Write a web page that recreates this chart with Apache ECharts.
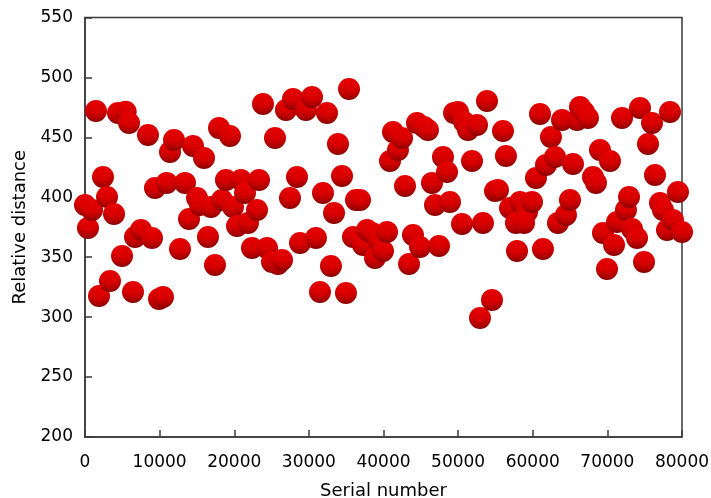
<!DOCTYPE html>
<html>
<head>
<meta charset="utf-8">
<script src="https://cdn.jsdelivr.net/npm/echarts@6/dist/echarts.min.js"></script>
<style>html,body{margin:0;padding:0;background:#fff}#c{width:711px;height:498px}</style>
</head>
<body>
<div id="c"></div>
<script>
var serial = [0,400,940,1470,1880,2410,2950,3350,3890,4420,4960,5450,5900,6430,6700,7500,8440,8980,9380,9920,
10450,10950,11390,11930,12730,13400,13940,14470,15010,15410,15950,16480,16880,17420,17960,18360,18890,19430,19830,20370,
20900,21440,21840,22380,23050,23320,23850,24390,25060,25460,25860,26400,26930,27470,27870,28410,28810,29610,30420,30950,
31490,31890,32430,32960,33370,33900,34440,34970,35380,35910,36310,36850,37250,37790,38460,38860,39400,39930,40470,40870,
41270,41940,42480,42880,43420,43950,44490,44890,45430,45960,46500,46900,47440,47970,48510,48910,49450,49980,50520,50790,
51320,51860,52530,52930,53330,53870,54540,54940,55340,56010,56410,56950,57750,57890,58290,59230,58830,59900,60430,60970,
61370,61770,62440,62980,63380,63920,64450,64990,65390,65930,66330,66870,67400,68070,68470,69010,69410,69950,70350,70890,
71290,71960,72490,72900,73300,73970,74370,74910,75440,75980,76380,77050,77450,77990,78390,78790,79460,80000];
var distance = [393.6,374.4,389.4,472,317.6,416.9,400.2,330.2,386,470.3,351,471.4,462,321,366.9,372.7,452,366,407.7,315.1,
316.8,412,437.8,447.8,356.8,412,381.9,442.8,399.4,393.6,432.8,366.9,391.9,343.5,457.8,397.7,414.4,451.1,391.9,376,
414.4,403.6,378.5,357.7,389.4,414.4,477.8,357.7,346,449.5,344.3,347.7,472.8,399.4,482,416.9,361.9,472.8,483.7,366,
321,403.6,470.3,342.7,386.9,444.5,417.8,320.1,490.3,366.9,397.7,397.7,360.2,372.7,370.2,349.3,363.5,355.2,371,430.3,
454.5,439.4,449.5,409.4,344.3,368.5,462,358.5,458.6,456.1,412,393.6,359.3,433.6,421.1,396,470.3,471.1,377.7,462.8,
456.1,430.3,460.3,299.3,378.5,480.3,314.3,405.2,406,455.3,434.4,391,378.5,355.2,396,387.7,378.5,396,416.1,469.5,
356.8,427,450.3,433.6,378.5,464.5,385.2,397.7,427.8,464.5,475.3,471.1,466.1,416.9,412,439.4,370.2,340.2,430.3,360.2,
379.4,466.1,389.4,400.2,373.5,366,474.5,346,444.5,462,418.6,395.2,389.4,372.7,471.1,381,404.4,371];
var xTicks = {min: 0, max: 80000, step: 10000};
var yTicks = {min: 200, max: 550, step: 50};
var xName = 'Serial number';
var yName = 'Relative distance';

var points = serial.map(function (s, i) { return [s, distance[i]]; });
var font = 'DejaVu Sans';
var chart = echarts.init(document.getElementById('c'), null, {renderer: 'canvas'});
chart.setOption({
  animation: false,
  backgroundColor: '#ffffff',
  grid: {left: 85, top: 17.5, right: 29, bottom: 61, show: true, borderColor: '#3a3a3a', borderWidth: 1.5,
    backgroundColor: 'transparent', containLabel: false, outerBoundsMode: 'none'},
  xAxis: {
    type: 'value', min: xTicks.min, max: xTicks.max, interval: xTicks.step,
    name: xName, nameLocation: 'middle', nameGap: 45,
    nameTextStyle: {fontFamily: font, fontSize: 18, color: '#000'},
    axisLine: {show: true, lineStyle: {color: '#3a3a3a', width: 1.5}},
    axisTick: {show: true, inside: true, length: 7, lineStyle: {color: '#3a3a3a', width: 1.5}},
    axisLabel: {fontFamily: font, fontSize: 17, color: '#000', margin: 17, showMinLabel: true, showMaxLabel: true,
      formatter: function (v) { return String(v); }},
    splitLine: {show: false}
  },
  yAxis: {
    type: 'value', min: yTicks.min, max: yTicks.max, interval: yTicks.step,
    name: yName, nameLocation: 'middle', nameGap: 55, nameRotate: 90,
    nameTextStyle: {fontFamily: font, fontSize: 18, color: '#000'},
    axisLine: {show: true, lineStyle: {color: '#3a3a3a', width: 1.5}},
    axisTick: {show: true, inside: true, length: 7, lineStyle: {color: '#3a3a3a', width: 1.5}},
    axisLabel: {fontFamily: font, fontSize: 17, color: '#000', margin: 12, showMinLabel: true, showMaxLabel: true,
      formatter: function (v) { return String(v); }},
    splitLine: {show: false}
  },
  series: [{
    type: 'scatter',
    data: points,
    symbol: 'circle',
    symbolSize: 22,
    clip: false,
    itemStyle: {
      color: {
        type: 'radial', x: 0.5, y: 0.05, r: 1.05,
        colorStops: [
          {offset: 0, color: '#e60000'},
          {offset: 0.5, color: '#d80000'},
          {offset: 0.75, color: '#b00000'},
          {offset: 1, color: '#6a0000'}
        ]
      },
      borderWidth: 0,
      opacity: 1
    }
  }]
});
</script>
</body>
</html>
